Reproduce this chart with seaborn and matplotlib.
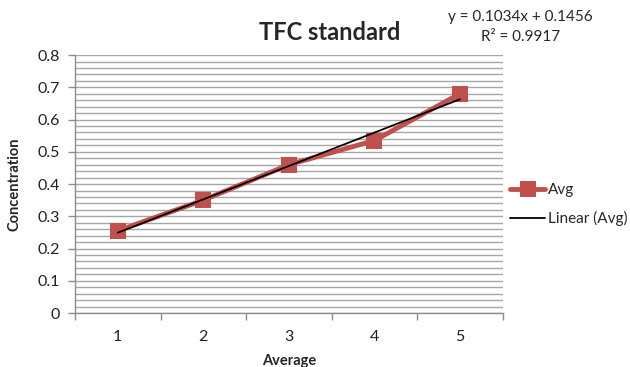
import numpy as np
import pandas as pd
import seaborn as sns
import matplotlib
matplotlib.use("Agg")
import matplotlib.pyplot as plt
from matplotlib.ticker import MultipleLocator, FixedLocator

categories = [1, 2, 3, 4, 5]
avg_values = [0.255, 0.35, 0.46, 0.535, 0.68]
y_ticks = [0, 0.1, 0.2, 0.3, 0.4, 0.5, 0.6, 0.7, 0.8]
title = "TFC standard"
xlabel = "Average"
ylabel = "Concentration"

sns.set_theme(style="white")
plt.rcParams['font.family'] = ['Lato', 'DejaVu Sans']

df = pd.DataFrame({"x": categories, "y": avg_values})
slope, intercept = np.polyfit(categories, avg_values, 1)
df["trend"] = slope * df["x"] + intercept

fig = plt.figure(figsize=(6.3, 3.67), dpi=100)
ax = fig.add_axes([0.119, 0.147, 0.679, 0.703])

red = "#C0504D"
sns.lineplot(data=df, x="x", y="y", ax=ax, color=red, linewidth=3.5,
             marker="s", markersize=11, markeredgewidth=0, label="Avg", zorder=3)
sns.lineplot(data=df, x="x", y="trend", ax=ax, color="black", linewidth=1.3,
             label="Linear (Avg)", zorder=4)

ax.set_xlim(0.5, 5.5)
ax.set_ylim(0, 0.8)
ax.yaxis.set_major_locator(FixedLocator(y_ticks))
ax.set_yticklabels(["0" if v == 0 else f"{v:g}" for v in y_ticks])
ax.yaxis.set_minor_locator(MultipleLocator(0.02))
ax.grid(True, which="both", axis="y", color="#A6A6A6", linewidth=1.0)
ax.set_axisbelow(True)

ax.set_xticks(categories)
ax.set_xticklabels([str(c) for c in categories])
ax.xaxis.set_minor_locator(FixedLocator([0.5, 1.5, 2.5, 3.5, 4.5, 5.5]))
ax.tick_params(axis="x", which="major", length=0, labelsize=11.5, pad=12, colors="#222222")
ax.tick_params(axis="x", which="minor", length=5, width=1, color="#8C8C8C", direction="out")
ax.tick_params(axis="y", which="major", length=5, width=1, color="#8C8C8C", direction="out",
               labelsize=11.5, labelcolor="#222222", pad=6)
ax.tick_params(axis="y", which="minor", length=0)
ax.xaxis.set_ticks_position("bottom")
ax.yaxis.set_ticks_position("left")

for s in ["top", "right"]:
    ax.spines[s].set_visible(False)
for s in ["left", "bottom"]:
    ax.spines[s].set_color("#8C8C8C")
    ax.spines[s].set_linewidth(1.0)

ax.set_xlabel(xlabel, fontsize=10.5, fontweight="bold")
ax.set_ylabel(ylabel, fontsize=10.5, fontweight="bold")
ax.xaxis.set_label_coords(0.5, -0.16)
ax.yaxis.set_label_coords(-0.125, 0.5)

fig.text(0.524, 0.912, title, ha="center", va="center", fontsize=17, fontweight="bold")
fig.text(0.826, 0.953, "y = 0.1034x + 0.1456", ha="center", va="center", fontsize=11)
fig.text(0.826, 0.898, "R² = 0.9917", ha="center", va="center", fontsize=11)

leg = ax.legend(loc="center left", bbox_to_anchor=(0.985, 0.42), frameon=False,
                fontsize=11, handlelength=2.3, handletextpad=0.2, labelspacing=0.9)

fig.savefig("out.png", dpi=100)
